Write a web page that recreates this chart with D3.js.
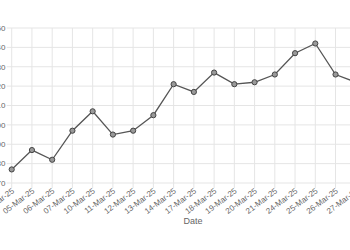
<!DOCTYPE html>
<html>
<head>
<meta charset="utf-8">
<script src="https://cdn.jsdelivr.net/npm/d3@7/dist/d3.min.js"></script>
<style>
html,body{margin:0;padding:0;background:#fff;overflow:hidden;}
svg{display:block;font-family:"Liberation Sans",Arial,Helvetica,sans-serif;}
</style>
</head>
<body>
<svg id="chart" width="350" height="250"></svg>
<script>
const dates = ["04-Mar-25","05-Mar-25","06-Mar-25","07-Mar-25","10-Mar-25","11-Mar-25","12-Mar-25","13-Mar-25","14-Mar-25","17-Mar-25","18-Mar-25","19-Mar-25","20-Mar-25","21-Mar-25","24-Mar-25","25-Mar-25","26-Mar-25","27-Mar-25"];
const values = [77,87,82,97,107,95,97,105,121,117,127,121,122,126,137,142,126,122];
const yTicks = [70,80,90,100,110,120,130,140,150];
const xTitle = "Date";

(function(){
const svg = d3.select("#chart");
const mLeft = 11.7, step = 20.24, mTop = 28, mBottom = 183;
const x = d3.scalePoint().domain(dates).range([mLeft, mLeft + step*(dates.length-1)]);
const y = d3.scaleLinear().domain([70,150]).range([mBottom, mTop]);
const grid = "#e5e5e5";

svg.append("g").selectAll("line").data(yTicks).join("line")
  .attr("x1", mLeft-5).attr("x2", 360)
  .attr("y1", d=>y(d)).attr("y2", d=>y(d))
  .attr("stroke", grid).attr("stroke-width",1);
svg.append("g").selectAll("line").data(dates).join("line")
  .attr("x1", d=>x(d)).attr("x2", d=>x(d))
  .attr("y1", mTop).attr("y2", mBottom+5)
  .attr("stroke", grid).attr("stroke-width",1);

svg.append("g").selectAll("text").data(yTicks).join("text")
  .attr("x", 5.5).attr("y", d=>y(d)).attr("dy","0.35em")
  .attr("text-anchor","end").attr("font-size",8).attr("fill","#666")
  .text(d=>d);

svg.append("g").selectAll("text").data(dates).join("text")
  .attr("text-anchor","end").attr("font-size",8).attr("fill","#666")
  .attr("transform", d=>`translate(${x(d)+3},${mBottom+9}) rotate(-37)`)
  .text(d=>d);

svg.append("text").attr("x",193).attr("y",224).attr("text-anchor","middle")
  .attr("font-size",9).attr("fill","#666").text(xTitle);

const line = d3.line().x((d,i)=>x(dates[i])).y(d=>y(d));
svg.append("path").datum(values).attr("d", line)
  .attr("fill","none").attr("stroke","#555").attr("stroke-width",1.3);

svg.append("g").selectAll("circle").data(values).join("circle")
  .attr("cx",(d,i)=>x(dates[i])).attr("cy",d=>y(d)).attr("r",2.6)
  .attr("fill","#999").attr("stroke","#444").attr("stroke-width",1);
})();
</script>
</body>
</html>
